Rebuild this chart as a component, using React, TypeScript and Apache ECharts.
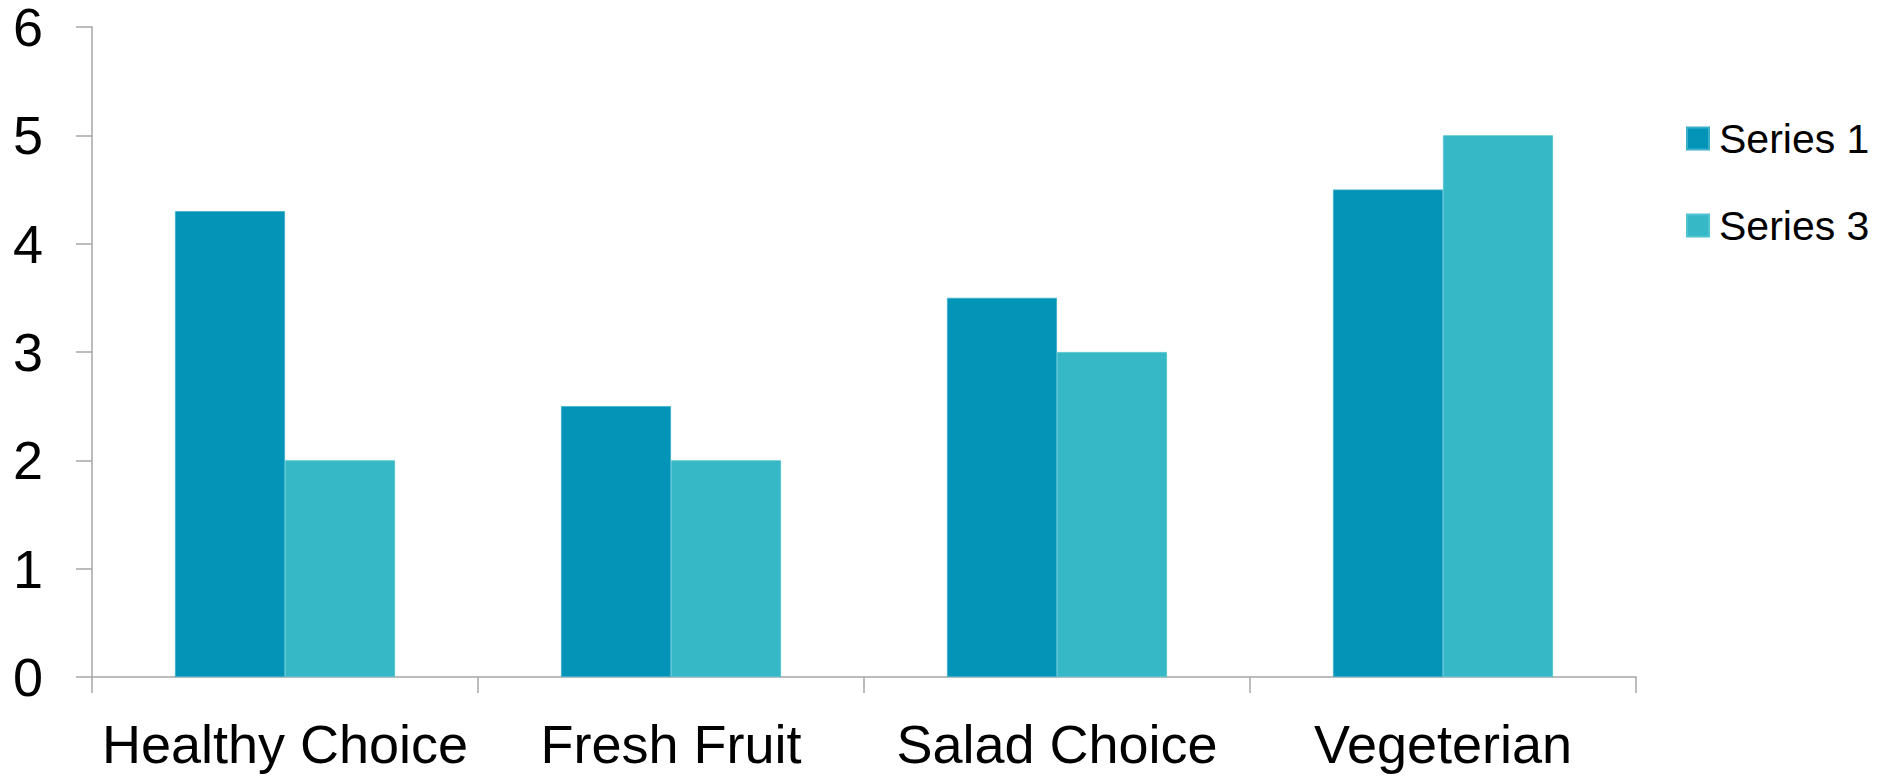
import React, { useEffect, useRef } from "react";
import * as echarts from "echarts";

const categories = ["Healthy Choice", "Fresh Fruit", "Salad Choice", "Vegeterian"];
const series1 = [4.3, 2.5, 3.5, 4.5];
const series3 = [2, 2, 3, 5];
const seriesNames = ["Series 1", "Series 3"];
const colors = ["#0394B8", "#36B8C6"];

const FONT = "'Liberation Sans', Arial, sans-serif";

export default function App() {
  const ref = useRef<HTMLDivElement>(null);
  useEffect(() => {
    if (!ref.current) return;
    const chart = echarts.init(ref.current, null, { renderer: "svg" });
    chart.setOption({
      animation: false,
      backgroundColor: "#ffffff",
      color: colors,
      grid: { left: 92, right: 250, top: 27, bottom: 99, containLabel: false },
      legend: {
        orient: "vertical",
        left: 1681,
        top: 113,
        icon: "rect",
        itemWidth: 22,
        itemHeight: 22,
        itemGap: 46,
        data: seriesNames,
        textStyle: { fontFamily: FONT, fontSize: 41, color: "#000", padding: [0, 0, 0, 5] },
      },
      xAxis: {
        type: "category",
        data: categories,
        axisLine: { lineStyle: { color: "#A6A6A6", width: 1.5 } },
        axisTick: { show: true, length: 16, alignWithLabel: false, lineStyle: { color: "#A6A6A6", width: 1.5 } },
        axisLabel: { fontFamily: FONT, fontSize: 54, color: "#000", margin: 40, interval: 0 },
        splitLine: { show: false },
      },
      yAxis: {
        type: "value",
        min: 0,
        max: 6,
        interval: 1,
        axisLine: { show: true, lineStyle: { color: "#A6A6A6", width: 1.5 } },
        axisTick: { show: true, length: 16, lineStyle: { color: "#A6A6A6", width: 1.5 } },
        axisLabel: { fontFamily: FONT, fontSize: 54, color: "#000", margin: 49, padding: [6, 0, 0, 0] },
        splitLine: { show: false },
      },
      series: [
        {
          name: seriesNames[0],
          type: "bar",
          data: series1,
          barGap: "0%",
          barCategoryGap: "43%",
          itemStyle: { color: colors[0], borderColor: "#3AAFCB", borderWidth: 0.8 },
        },
        {
          name: seriesNames[1],
          type: "bar",
          data: series3,
          barGap: "0%",
          barCategoryGap: "43%",
          itemStyle: { color: colors[1], borderColor: "#4CC3D0", borderWidth: 0.8 },
        },
      ],
    });
    return () => chart.dispose();
  }, []);
  return (
    <div
      ref={ref}
      style={{ position: "fixed", left: 0, top: 0, width: 1886, height: 776, background: "#fff" }}
    />
  );
}
